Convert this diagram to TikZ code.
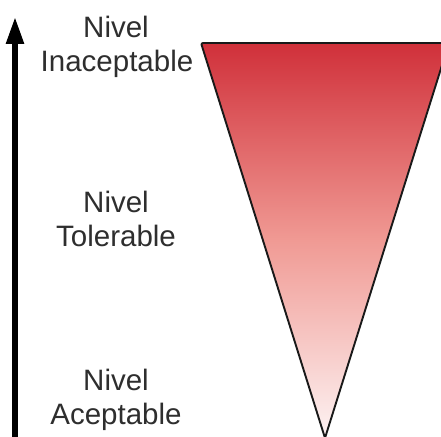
\documentclass[tikz,border=0pt]{standalone}
\usepackage{fontspec}
\setmainfont{Liberation Sans}
\usetikzlibrary{arrows.meta}
\definecolor{txtgray}{HTML}{2E2E2E}
\definecolor{topred}{HTML}{D0303A}
\definecolor{midred}{HTML}{F09A94}
\definecolor{botred}{HTML}{FDF3F3}
\tikzset{
  lbl/.style={font=\fontsize{29.5}{34}\selectfont, text=txtgray, anchor=base, inner sep=0pt},
  tri/.style={draw=black!90, line width=1.9pt, rounded corners=2pt, line join=round,
    top color=topred, bottom color=botred, middle color=midred, shading angle=0},
  axis/.style={line width=5.5pt, -{Triangle[width=17pt,length=27pt]}}
}
\begin{document}
\begin{tikzpicture}[x=1pt,y=1pt]
\useasboundingbox (0,0) rectangle (441,436);
\clip (0,0) rectangle (441,436);
% triangle
\coordinate (tl) at (201,393);
\coordinate (tr) at (449,393);
\coordinate (ap) at (325,-2);
\path[tri] (tl) -- (tr) -- (ap) -- cycle;
% axis arrow
\coordinate (ab) at (15,-5);
\coordinate (at) at (15,419);
\draw[axis] (ab) -- (at);
% labels
\node[lbl] (n1) at (116,398) {Nivel};
\node[lbl] (i1) at (117,364) {Inaceptable};
\node[lbl] (n2) at (116,223) {Nivel};
\node[lbl] (t2) at (116,189) {Tolerable};
\node[lbl] (n3) at (116,46) {Nivel};
\node[lbl] (a3) at (116,12) {Aceptable};
\end{tikzpicture}
\end{document}
